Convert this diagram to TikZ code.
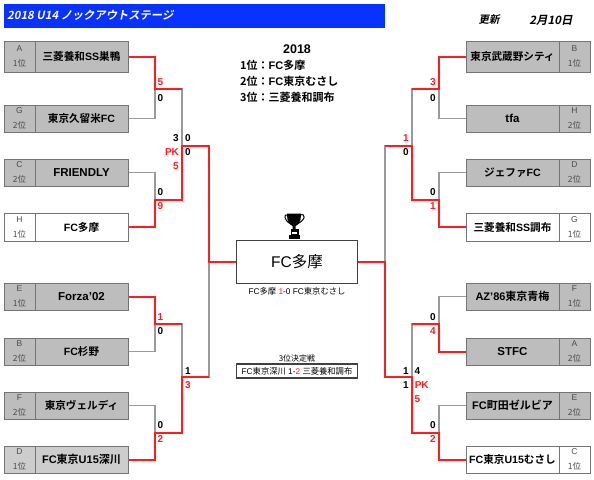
\documentclass[tikz,border=0pt]{standalone}
\usepackage{fontspec}
\setmainfont{Liberation Sans}
\newfontfamily\cjk[BoldFont={Noto Sans CJK JP Bold}]{Noto Sans CJK JP}
\newfontfamily\cjkit[FakeSlant=0.2]{Noto Sans CJK JP Bold}
\newcommand{\J}[1]{{\cjk #1}}
\definecolor{boxgray}{HTML}{BDBDBD}
\definecolor{boxlight}{HTML}{CDCDCD}
\definecolor{edgegray}{HTML}{747474}
\definecolor{linegray}{HTML}{9A9A9A}
\definecolor{win}{HTML}{FF1C1C}
\definecolor{hdr}{HTML}{0A32FF}
\tikzset{
 seedbox/.style={draw=edgegray,line width=1pt,minimum width=31pt,inner sep=0pt,align=center,font=\fontsize{8.5}{15}\selectfont,text=black!70},
 teambox/.style={draw=edgegray,line width=1pt,minimum width=93pt,inner sep=0pt,font=\fontsize{10.6}{12}\selectfont\bfseries},
 lose/.style={draw=linegray,line width=1.2pt},
 won/.style={draw=win,line width=2pt},
 sc/.style={font=\fontsize{10}{11}\selectfont\bfseries,inner sep=0pt},
 scr/.style={sc,text=win},
}
% name, y, height, seed letter, rank, team, fill
\newcommand{\teamL}[7]{%
 \node[seedbox,fill=#7,minimum height=#3pt] (s#1) at (19.5,#2) {#4\\\J{#5}};
 \node[teambox,fill=#7,minimum height=#3pt] (t#1) at (81.5,#2) {#6};}
\newcommand{\teamR}[7]{%
 \node[seedbox,fill=#7,minimum height=#3pt] (s#1) at (574.5,#2) {#4\\\J{#5}};
 \node[teambox,fill=#7,minimum height=#3pt] (t#1) at (512.5,#2) {#6};}
\begin{document}
\begin{tikzpicture}[x=1pt,y=-1pt]
\useasboundingbox (0,0) rectangle (594,479);
% header
\node[fill=hdr,minimum width=381pt,minimum height=24pt,inner sep=0pt,anchor=north west] (hdrbar) at (4,3.5) {};
\node[anchor=west,text=white,inner sep=0pt,font=\fontsize{11.3}{12}\selectfont\cjkit] (title) at (7,15) {2018 U14 ノックアウトステージ};
\node[inner sep=0pt,font=\fontsize{10.5}{11}\selectfont\cjkit] (upd) at (489,20) {更新};
\node[inner sep=0pt,font=\fontsize{11.5}{12}\selectfont\cjkit] (upddate) at (551,20) {2月10日};
% left teams
\teamL{A}{56.5}{31}{A}{1位}{\J{三菱養和}SS\J{巣鴨}}{boxgray}
\teamL{G}{118.5}{27}{G}{2位}{\J{東京久留米}FC}{boxgray}
\teamL{C}{172.5}{27}{C}{2位}{\fontsize{11.5}{12}\selectfont FRIENDLY}{boxgray}
\teamL{H}{227}{28}{H}{1位}{FC\J{多摩}}{white}
\teamL{E}{296.5}{27}{E}{1位}{\fontsize{11.5}{12}\selectfont Forza'02}{boxgray}
\teamL{B}{351.5}{27}{B}{2位}{FC\J{杉野}}{boxgray}
\teamL{F}{405.5}{27}{F}{2位}{\J{東京ヴェルディ}}{boxgray}
\teamL{D}{459.5}{27}{D}{1位}{\fontsize{11}{12}\selectfont FC\J{東京}U15\J{深川}}{boxlight}
% right teams
\teamR{b}{56.5}{31}{B}{1位}{\J{東京武蔵野シティ}}{boxgray}
\teamR{h}{118.5}{27}{H}{2位}{\fontsize{11.5}{12}\selectfont tfa}{boxgray}
\teamR{d}{172.5}{27}{D}{2位}{\J{ジェファ}FC}{boxgray}
\teamR{g}{227}{28}{G}{1位}{\J{三菱養和}SS\J{調布}}{white}
\teamR{f}{296.5}{27}{F}{1位}{\fontsize{11}{12}\selectfont AZ'86\J{東京青梅}}{boxgray}
\teamR{a}{351.5}{27}{A}{2位}{\fontsize{11.5}{12}\selectfont STFC}{boxgray}
\teamR{e}{405.5}{27}{E}{2位}{\fontsize{11}{12}\selectfont FC\J{町田ゼルビア}}{boxgray}
\teamR{c}{459.5}{27}{C}{1位}{\fontsize{10.6}{12}\selectfont FC\J{東京}U15\J{むさし}}{white}
% final
\node[draw=black!75,line width=1.5pt,fill=white,minimum width=121pt,minimum height=43pt,inner sep=0pt,font=\fontsize{15.5}{17}\selectfont] (final) at (297,262) {FC\J{多摩}};
\node[inner sep=0pt,font=\fontsize{8.3}{9}\selectfont] (finalscore) at (297,291) {FC\J{多摩} \textcolor{win}{1}-0 FC\J{東京むさし}};
\node[inner sep=0pt,font=\fontsize{8}{9}\selectfont] (thirdlabel) at (297,358) {\J{3位決定戦}};
\node[draw=black!75,line width=1.2pt,fill=white,minimum width=121pt,minimum height=14pt,inner sep=0pt,font=\fontsize{8.3}{9}\selectfont] (third) at (297,371) {FC\J{東京深川} 1-\textcolor{win}{2} \J{三菱養和調布}};
% results
\node[inner sep=0pt,font=\fontsize{12.5}{13}\selectfont\bfseries] (yr) at (297,49) {2018};
\node[anchor=west,inner sep=0pt,font=\fontsize{11}{12}\selectfont\bfseries] (r1) at (240,65) {\J{1位：}FC\J{多摩}};
\node[anchor=west,inner sep=0pt,font=\fontsize{11}{12}\selectfont\bfseries] (r2) at (240,81) {\J{2位：}FC\J{東京むさし}};
\node[anchor=west,inner sep=0pt,font=\fontsize{11}{12}\selectfont\bfseries] (r3) at (240,97) {\J{3位：三菱養和調布}};
% trophy
\fill[black] (287,213.5) -- (301,213.5) -- (301,215) .. controls (301,222) and (298,225) .. (295.5,226) -- (295.5,229) -- (292.5,229) -- (292.5,226) .. controls (290,225) and (287,222) .. (287,215) -- cycle;
\draw[black,line width=1pt] (288,215) .. controls (283,213) and (284,221) .. (291,224);
\draw[black,line width=1pt] (300,215) .. controls (306,213) and (306,220) .. (297,224);
\fill[black] (290.5,229) rectangle (298.5,238.5);
\fill[black] (289,235) rectangle (300,238.5);
\fill[white] (292,232) rectangle (297,233.5);
% junction coordinates
\coordinate (la1) at (155,89); \coordinate (la2) at (155,200);
\coordinate (la3) at (155,324); \coordinate (la4) at (155,433);
\coordinate (lb1) at (182,146); \coordinate (lb2) at (182,377);
\coordinate (lc1) at (209,262);
\coordinate (ra1) at (439,89); \coordinate (ra2) at (439,200);
\coordinate (ra3) at (439,324); \coordinate (ra4) at (439,433);
\coordinate (rb1) at (412,146); \coordinate (rb2) at (412,377);
\coordinate (rc1) at (385,262);
% losing lines
\draw[lose] (tG.east) -| (la1);
\draw[lose] (tC.east) -| (la2);
\draw[lose] (tB.east) -| (la3);
\draw[lose] (tF.east) -| (la4);
\draw[lose] (la1) -| (lb1);
\draw[lose] (la3) -| (lb2);
\draw[lose] (lb2) -| (lc1);
\draw[lose] (th.west) -| (ra1);
\draw[lose] (td.west) -| (ra2);
\draw[lose] (tf.west) -| (ra3);
\draw[lose] (te.west) -| (ra4);
\draw[lose] (ra3) -| (rb2);
\draw[lose] (ra1) -| (rb1);
\draw[lose] (rb1) -| (rc1);
% winning lines
\draw[won] (tA.east) -| (la1) -- (la1 -| lb1);
\draw[won] (tH.east) -| (la2) -| (lb1) -| (lc1) -- (final.west);
\draw[won] (tE.east) -| (la3) -- (la3 -| lb2);
\draw[won] (tD.east) -| (la4) -| (lb2) -- (lb2 -| lc1);
\draw[won] (tb.west) -| (ra1) -- (ra1 -| rb1);
\draw[won] (tg.west) -| (ra2) -| (rb1) -- (rb1 -| rc1);
\draw[won] (ta.west) -| (ra3) -- (ra3 -| rb2);
\draw[won] (tc.west) -| (ra4) -| (rb2) -| (rc1) -- (final.east);
% scores left
\node[scr] (s1) at (160.5,81.7) {5}; \node[sc] (s2) at (160.5,98) {0};
\node[sc] (s3) at (176,138) {3}; \node[sc] (s4) at (188,138) {0};
\node[scr] (s5) at (172,152.5) {PK}; \node[sc] (s6) at (188,152.5) {0};
\node[scr] (s7) at (176,166) {5};
\node[sc] (s8) at (160.5,192.5) {0}; \node[scr] (s9) at (160.5,206.5) {9};
\node[scr] (s10) at (160.5,316.7) {1}; \node[sc] (s11) at (160.5,331) {0};
\node[sc] (s12) at (188,370.7) {1}; \node[scr] (s13) at (188,385) {3};
\node[sc] (s14) at (160.5,425) {0}; \node[scr] (s15) at (160.5,439) {2};
% scores right
\node[scr] (s16) at (433,81.7) {3}; \node[sc] (s17) at (433,98) {0};
\node[scr] (s18) at (406,138) {1}; \node[sc] (s19) at (406,152.5) {0};
\node[sc] (s20) at (433,192.5) {0}; \node[scr] (s21) at (433,206.5) {1};
\node[sc] (s22) at (433,316.7) {0}; \node[scr] (s23) at (433,331) {4};
\node[sc] (s24) at (406,370.7) {1}; \node[sc] (s25) at (417.5,370.7) {4};
\node[sc] (s26) at (406,385) {1}; \node[scr] (s27) at (421.7,385) {PK};
\node[scr] (s28) at (417.5,399) {5};
\node[sc] (s29) at (433,425) {0}; \node[scr] (s30) at (433,439) {2};
\end{tikzpicture}
\end{document}
